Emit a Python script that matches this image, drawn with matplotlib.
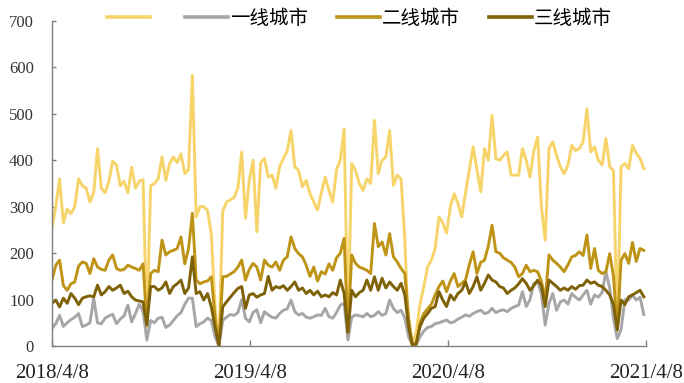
import matplotlib
matplotlib.use("Agg")
import matplotlib.pyplot as plt
import pandas as pd
from matplotlib.lines import Line2D

# weekly series, first week ending 2018/4/8
start_date = "2018-04-08"

total = [
    255, 300, 360, 265, 295, 285, 300, 360, 345, 340,
    310, 330, 425, 340, 330, 355, 398, 390, 345, 355,
    330, 385, 340, 355, 358, 40, 345, 350, 360, 407,
    357, 393, 407, 395, 414, 371, 380, 583, 278, 300,
    300, 292, 240, 80, 0, 290, 310, 315, 320, 340,
    418, 275, 357, 400, 246, 395, 404, 364, 368, 340,
    386, 404, 420, 464, 386, 378, 343, 357, 328, 310,
    293, 330, 364, 335, 310, 380, 400, 468, 40, 393,
    378, 350, 335, 360, 350, 486, 371, 400, 407, 464,
    346, 368, 360, 230, 20, 0, 30, 90, 128, 170,
    185, 210, 278, 265, 243, 300, 328, 307, 278, 330,
    380, 429, 380, 332, 425, 400, 497, 404, 400, 410,
    418, 368, 368, 368, 425, 400, 364, 420, 450, 300,
    228, 425, 440, 410, 386, 371, 390, 432, 421, 425,
    440, 511, 418, 429, 400, 390, 447, 386, 378, 35,
    386, 393, 382, 432, 415, 404, 382,
]

tier1 = [
    38, 48, 66, 42, 50, 57, 62, 70, 42, 45,
    50, 103, 50, 48, 60, 65, 68, 48, 58, 65,
    88, 52, 70, 90, 75, 13, 55, 50, 60, 62,
    40, 45, 55, 65, 72, 90, 103, 103, 42, 48,
    52, 60, 55, 20, 0, 55, 62, 68, 66, 72,
    100, 60, 52, 72, 78, 50, 74, 67, 62, 60,
    70, 77, 80, 99, 74, 67, 70, 62, 60, 63,
    67, 66, 81, 63, 60, 72, 88, 92, 13, 62,
    67, 65, 63, 70, 63, 66, 74, 66, 70, 99,
    81, 72, 77, 60, 20, 3, 2, 20, 32, 40,
    42, 48, 50, 53, 56, 50, 52, 58, 62, 67,
    64, 70, 74, 77, 70, 72, 81, 72, 76, 78,
    74, 81, 85, 88, 117, 85, 100, 135, 138, 113,
    45, 92, 113, 77, 95, 99, 90, 113, 105, 99,
    110, 120, 90, 110, 105, 115, 160, 125, 60, 16,
    35, 100, 99, 110, 99, 105, 68,
]

tier2 = [
    142, 174, 185, 130, 120, 134, 138, 172, 181, 178,
    156, 188, 170, 165, 163, 185, 196, 167, 163, 165,
    174, 170, 167, 163, 177, 50, 156, 163, 160, 228,
    196, 203, 206, 210, 235, 177, 210, 286, 142, 134,
    138, 140, 149, 60, 0, 149, 150, 155, 160, 170,
    185, 142, 165, 178, 170, 142, 185, 174, 170, 181,
    163, 185, 192, 235, 210, 199, 192, 174, 150, 170,
    140, 160, 155, 177, 163, 190, 200, 232, 30, 196,
    178, 170, 167, 163, 156, 264, 214, 224, 196, 242,
    192, 181, 167, 156, 60, 2, 5, 50, 70, 80,
    90, 110, 128, 140, 117, 140, 156, 128, 135, 142,
    175, 203, 156, 180, 185, 215, 260, 203, 200, 190,
    185, 180, 170, 149, 156, 174, 160, 163, 160, 140,
    99, 196, 185, 178, 170, 160, 175, 192, 195, 203,
    195, 239, 167, 210, 163, 156, 160, 199, 150, 34,
    185, 199, 178, 223, 182, 210, 206,
]

tier3 = [
    92, 99, 84, 103, 92, 113, 103, 89, 103, 106,
    108, 106, 131, 110, 117, 128, 120, 125, 131, 113,
    118, 106, 99, 97, 95, 45, 128, 128, 120, 125,
    138, 113, 128, 134, 142, 113, 125, 192, 113, 117,
    99, 113, 84, 40, 0, 84, 95, 105, 115, 124,
    128, 81, 110, 113, 105, 110, 113, 150, 120, 128,
    125, 130, 120, 128, 138, 120, 125, 113, 120, 110,
    118, 106, 110, 106, 115, 110, 142, 113, 30, 120,
    106, 115, 120, 142, 120, 149, 120, 146, 125, 138,
    128, 120, 135, 110, 40, 2, 5, 42, 60, 70,
    81, 85, 117, 99, 85, 110, 99, 113, 120, 138,
    113, 128, 149, 120, 135, 153, 142, 138, 128, 125,
    113, 120, 125, 134, 145, 135, 120, 130, 142, 130,
    85, 142, 135, 128, 120, 125, 120, 128, 122, 130,
    131, 142, 135, 138, 131, 128, 120, 110, 90, 35,
    99, 89, 106, 110, 115, 120, 106,
]

series_labels = [" ", "一线城市", "二线城市", "三线城市"]
series_colors = ["#F7D46A", "#A6A6A6", "#BF9416", "#7F6208"]

x_ticks = ["2018-04-08", "2019-04-08", "2020-04-08", "2021-04-08"]
x_tick_labels = ["2018/4/8", "2019/4/8", "2020/4/8", "2021/4/8"]
y_ticks = [0, 100, 200, 300, 400, 500, 600, 700]

dates = pd.date_range(start_date, periods=len(total), freq="7D")
df = pd.DataFrame({"total": total, "tier1": tier1, "tier2": tier2, "tier3": tier3}, index=dates)

fig = plt.figure(figsize=(6.84, 3.83), dpi=100)
ax = fig.add_axes([52 / 684, 1 - 346 / 383, (646 - 52) / 684, (346 - 21) / 383])

handles = []
for col, color in zip(df.columns, series_colors):
    ax.plot(df.index, df[col], color=color, lw=2.1, solid_joinstyle="round")
    handles.append(Line2D([], [], color=color, lw=2.6))

ax.set_xlim(pd.Timestamp(x_ticks[0]), pd.Timestamp(x_ticks[-1]))
ax.set_ylim(0, 700)
ax.set_xticks([pd.Timestamp(t) for t in x_ticks])
ax.set_xticklabels(x_tick_labels, fontsize=15, family="Liberation Serif", color="#222222")
ax.set_yticks(y_ticks)
ax.set_yticklabels([str(v) for v in y_ticks], fontsize=12, family="Liberation Serif", color="#333333")

for side in ("top", "right"):
    ax.spines[side].set_visible(False)
for side in ("left", "bottom"):
    ax.spines[side].set_color("#7F7F7F")
    ax.spines[side].set_linewidth(1.0)
ax.tick_params(axis="x", direction="in", length=4, width=1, color="#7F7F7F", pad=13)
ax.tick_params(axis="y", direction="in", length=3, width=1, color="#7F7F7F", pad=13)

fig.legend(
    handles, series_labels,
    loc="center left", bbox_to_anchor=(107 / 684, 1 - 18 / 383),
    ncol=4, frameon=False, borderpad=0, borderaxespad=0,
    handlelength=2.2, handletextpad=0.1, columnspacing=1.5,
    prop={"family": ["Noto Sans CJK SC", "DejaVu Sans"], "size": 14},
)

fig.savefig("out.png", dpi=100)
